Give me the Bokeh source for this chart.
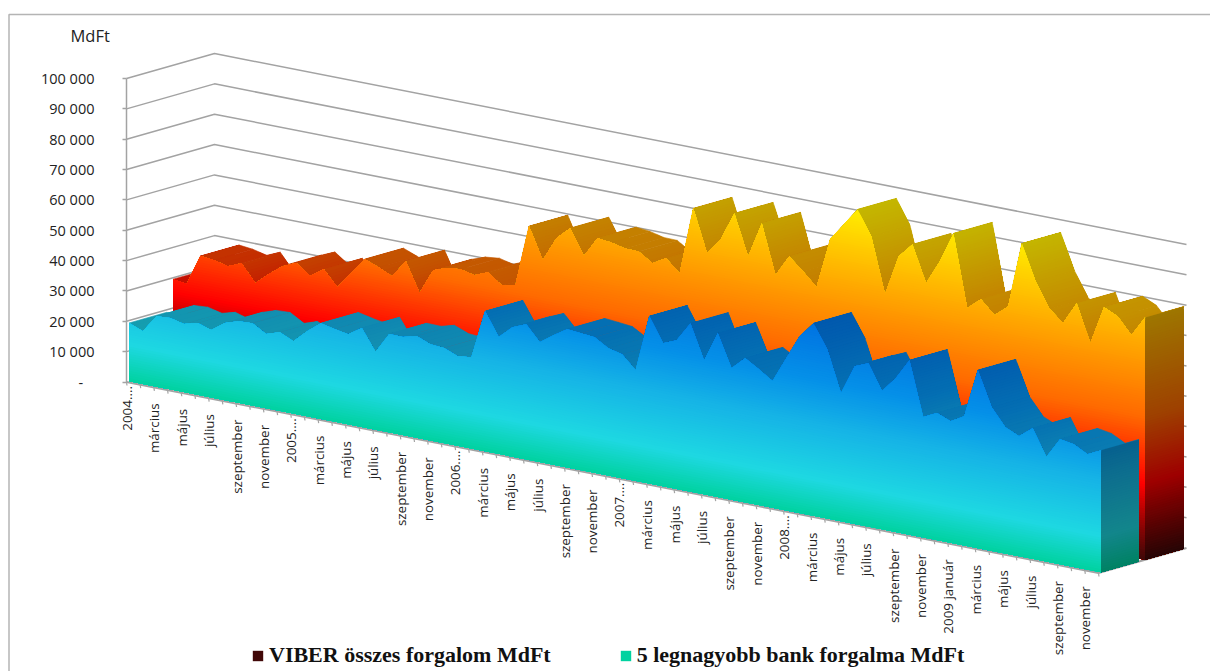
import math
from bokeh.core.properties import value
from bokeh.embed import file_html
from bokeh.models import FixedTicker, Legend, LegendItem, LinearAxis, Range1d
from bokeh.plotting import figure
from bokeh.resources import INLINE

# ---- data (thousand MdFt) ----
viber_total = [29.5, 28.8, 38.9, 38.4, 37.3, 39.2, 33.5, 37.4, 40.9, 42.8, 39.4, 42.5,
               37.5, 43.0, 48.5, 46.7, 44.7, 50.5, 40.9, 49.3, 50.9, 51.4, 50.3, 52.2,
               48.8, 49.7, 70.0, 59.7, 67.8, 72.0, 63.7, 70.5, 70.0, 68.9, 68.8, 65.8,
               68.3, 64.2, 86.5, 72.6, 78.1, 87.5, 74.2, 86.0, 69.8, 76.9, 72.9, 68.5,
               85.2, 91.0, 96.8, 88.8, 70.6, 84.0, 88.8, 76.9, 85.0, 95.1, 71.3, 75.2,
               70.8, 74.6, 96.2, 84.6, 76.6, 72.6, 80.0, 67.8, 80.5, 78.4, 73.1, 79.8]
top5_banks = [19.2, 17.4, 23.2, 23.5, 22.4, 23.6, 22.2, 25.4, 26.9, 27.1, 24.4, 25.9,
              23.8, 28.0, 31.5, 30.5, 29.7, 32.6, 25.6, 32.4, 32.3, 33.5, 31.7, 31.3,
              29.5, 30.1, 46.1, 38.5, 42.6, 44.5, 39.4, 42.6, 45.5, 45.1, 44.6, 41.9,
              40.8, 36.4, 55.1, 47.1, 49.0, 55.4, 44.1, 53.9, 43.3, 47.5, 44.7, 41.7,
              50.1, 58.3, 63.4, 55.7, 42.1, 51.9, 53.8, 45.5, 50.6, 57.4, 39.6, 41.8,
              40.0, 42.5, 58.6, 47.3, 41.6, 39.5, 43.0, 34.4, 41.2, 40.4, 38.0, 40.2]
month_labels = ["2004....", "március", "május", "július", "szeptember", "november",
                "2005....", "március", "május", "július", "szeptember", "november",
                "2006....", "március", "május", "július", "szeptember", "november",
                "2007....", "március", "május", "július", "szeptember", "november",
                "2008....", "március", "május", "július", "szeptember", "november",
                "2009 január", "március", "május", "július", "szeptember", "november"]
value_ticks = [0, 10000, 20000, 30000, 40000, 50000, 60000, 70000, 80000, 90000, 100000]
value_tick_labels = ["-\u00a0\u00a0\u00a0", "10 000", "20 000", "30 000", "40 000", "50 000",
                     "60 000", "70 000", "80 000", "90 000", "100 000"]
series_names = ["VIBER összes forgalom MdFt", "5 legnagyobb bank forgalma MdFt"]

# ---- oblique projection of (month, value, depth) on the figure's scales ----
K = 0.003035          # pixels per value unit
STEP_X, STEP_Y = 13.69, 2.69
DEPTH_X, DEPTH_Y = 88.0, 25.0
X0, Y0_PAGE = 126.0, 381.5
W, H = 1210, 671


def px(m, d):
    return X0 + STEP_X * m + DEPTH_X * d


def py(m, v, d):
    return v - (STEP_Y * m - DEPTH_Y * d) / K


def page_y(y):
    return (Y0_PAGE - y) / K


VIBER_STOPS = [(0, (62, 8, 8)), (10000, (135, 4, 4)), (25000, (255, 0, 0)), (47000, (255, 105, 0)),
               (70000, (255, 165, 0)), (85000, (255, 205, 0)), (97000, (255, 238, 0))]
BANK_STOPS = [(0, (0, 210, 160)), (12000, (30, 216, 226)), (30000, (22, 180, 230)),
              (45000, (5, 144, 232)), (65000, (0, 112, 225))]


def grad(stops, v, f=1.0):
    v = max(stops[0][0], min(stops[-1][0], v))
    for (a, ca), (b, cb) in zip(stops, stops[1:]):
        if v <= b:
            t = (v - a) / (b - a)
            c = [ca[i] + (cb[i] - ca[i]) * t for i in range(3)]
            break
    return "#%02x%02x%02x" % tuple(int(round(x * f)) for x in c)


def clipped_profile(vals, level):
    """Month/value outline of the series, cut off at a level."""
    out = []
    for i, v in enumerate(vals):
        if i:
            a = vals[i - 1]
            if (a - level) * (v - level) < 0:
                out.append((i - 1 + (level - a) / (v - a), level))
        out.append((i, min(v, level)))
    return out


p = figure(width=W, height=H, output_backend="svg", toolbar_location=None,
           x_range=Range1d(0, W), y_range=Range1d(page_y(H), page_y(0)),
           min_border=0, min_border_left=0, min_border_right=0, min_border_top=0,
           min_border_bottom=0, x_axis_type=None, y_axis_type=None)
p.grid.visible = False
p.outline_line_color = None

# frame of the chart (top and left edge)
p.line([8.5, 8.5, W], [page_y(H), page_y(14), page_y(14)], line_color="#b4b4b4", line_width=1.5)

GRID = "#a3a3a3"
LAST = len(viber_total) - 1
# walls
for t in value_ticks[1:]:
    p.line([px(0, 0), px(0, 1), px(LAST, 1)], [py(0, t, 0), py(0, t, 1), py(LAST, t, 1)],
           line_color=GRID, line_width=1.5)
# floor and axis line
p.line([px(0, 0), px(LAST, 0), px(LAST, 1)], [py(0, 0, 0), py(LAST, 0, 0), py(LAST, 0, 1)],
       line_color=GRID, line_width=2)
p.segment([px(m, 0) for m in range(LAST + 1)], [py(m, 0, 0) for m in range(LAST + 1)],
          [px(m, 0) + 0.5 for m in range(LAST + 1)], [py(m, 0, 0) - 3.5 / K for m in range(LAST + 1)],
          line_color=GRID, line_width=1.2)


def draw_series(vals, stops, d0, d1):
    vals = [v * 1000 for v in vals]
    # extruded top surface, left to right; inside a segment each band covers the rest of it
    xs, ys, cs, la = [], [], [], []
    for m in range(len(vals) - 1):
        a, b = vals[m], vals[m + 1]
        n = max(1, math.ceil(abs(b - a) / 800))
        for k in range(n):
            t0 = k / n
            v0 = a + (b - a) * t0
            m0 = m + t0
            xs.append([px(m0, d0), px(m + 1, d0), px(m + 1, d1), px(m0, d1)])
            ys.append([py(m0, v0, d0), py(m + 1, b, d0), py(m + 1, b, d1), py(m0, v0, d1)])
            cs.append(grad(stops, v0 + (b - a) / (2 * n), 0.77))
            la.append(1.0 if k == 0 else 0.0)
    p.patches(xs, ys, fill_color=cs, line_color=cs, line_alpha=la, line_width=0.6)

    # front face: nested shapes from the highest level downwards
    fx, fy, fc = [], [], []
    level = max(vals)
    while level > 0:
        outline = clipped_profile(vals, level)
        m_s = [o[0] for o in outline] + [LAST, 0]
        v_s = [o[1] for o in outline] + [0, 0]
        fx.append([px(m, d0) for m in m_s])
        fy.append([py(m, v, d0) for m, v in zip(m_s, v_s)])
        fc.append(grad(stops, level - 400))
        level -= 800
    face = p.patches(fx, fy, fill_color=fc, line_color=None)

    # right end wall
    wx, wy, wc = [], [], []
    level = vals[-1]
    while level > 0:
        wx.append([px(LAST, d0), px(LAST, d1), px(LAST, d1), px(LAST, d0)])
        wy.append([py(LAST, 0, d0), py(LAST, 0, d1), py(LAST, level, d1), py(LAST, level, d0)])
        wc.append(grad(stops, level - 400, 0.62))
        level -= 800
    p.patches(wx, wy, fill_color=wc, line_color=None)
    return face, len(fc) - 1


viber_face, viber_idx = draw_series(viber_total, VIBER_STOPS, 0.53, 0.97)
bank_face, bank_idx = draw_series(top5_banks, BANK_STOPS, 0.03, 0.46)

# value axis on the left wall
axis = LinearAxis(fixed_location=X0, ticker=FixedTicker(ticks=value_ticks),
                  major_label_overrides=dict(zip(value_ticks, value_tick_labels)),
                  bounds=(0, 100000), axis_line_color=GRID, axis_line_width=1.5,
                  major_tick_line_color=GRID, major_tick_line_width=1.5,
                  major_tick_out=4, major_tick_in=0, minor_tick_out=0, minor_tick_in=0,
                  major_label_standoff=28, major_label_text_font="Open Sans",
                  major_label_text_font_size="14.5px", major_label_text_color="#222222")
p.add_layout(axis, "left")

# month labels along the slanted axis
for i, lab in enumerate(month_labels):
    m = i * 2
    off = 4 if lab.endswith("....") else 16
    p.text([px(m, 0) + 0.5], [py(m, 0, 0)], text=[lab], angle=math.pi / 2, text_align="right",
           text_baseline="middle", y_offset=off, text_font=value("Open Sans"),
           text_font_size="13.4px", text_color="#222222")

p.text([70], [page_y(35)], text=["MdFt"], text_align="left", text_baseline="middle",
       text_font=value("Open Sans"), text_font_size="16.5px", text_color="#222222")

legend = Legend(items=[LegendItem(label=value(series_names[0]), renderers=[viber_face], index=viber_idx),
                       LegendItem(label=value(series_names[1]), renderers=[bank_face], index=bank_idx)],
                orientation="horizontal", location=(251, 3), margin=0, padding=0, spacing=68,
                border_line_color=None, background_fill_alpha=0, glyph_width=13, glyph_height=13,
                label_standoff=5, label_text_font="Liberation Serif", label_text_font_style="bold",
                label_text_font_size="22px", label_text_color="#111111", label_height=16)
p.add_layout(legend, "center")

open("out.html", "w").write(file_html(p, INLINE))
